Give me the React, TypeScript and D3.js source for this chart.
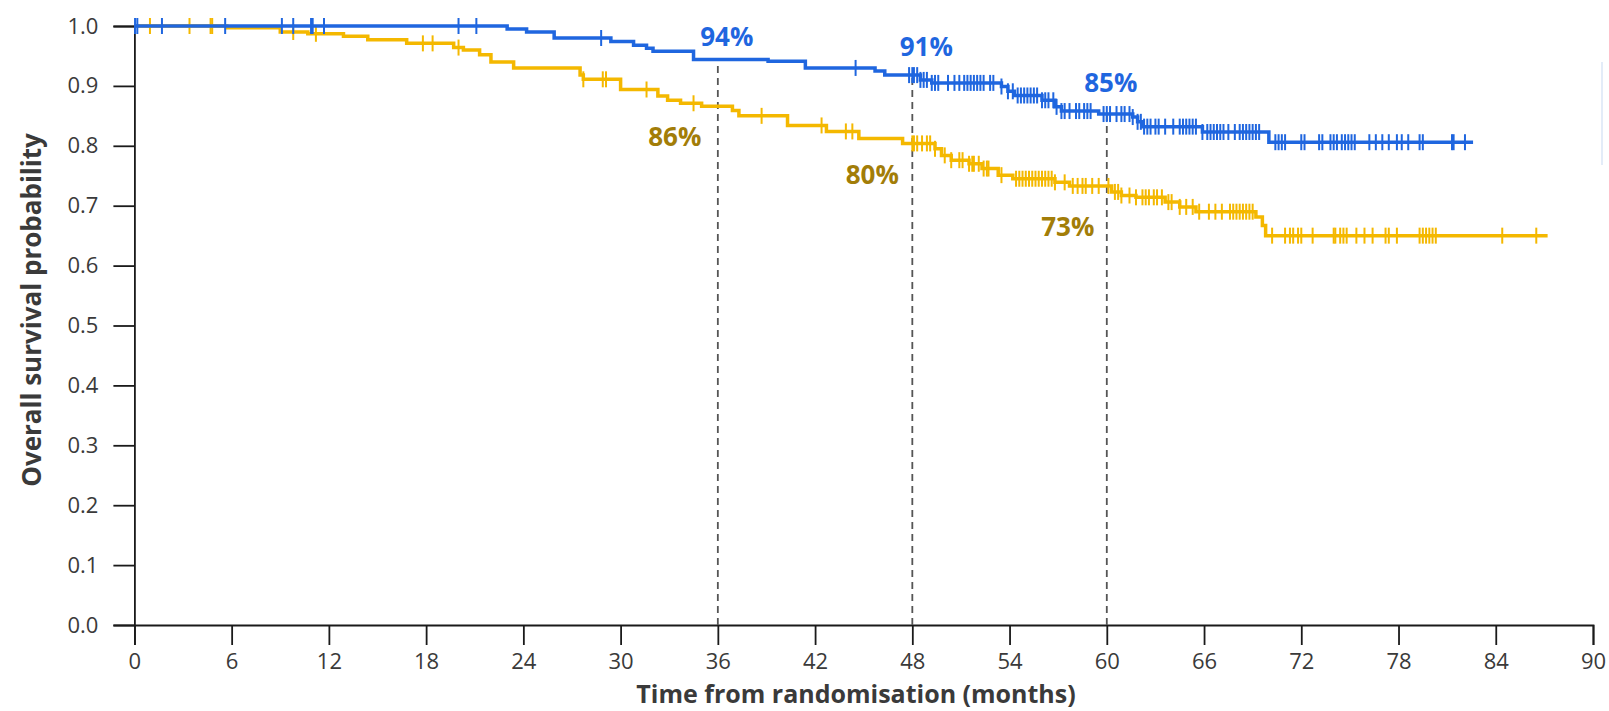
import React, { useEffect, useRef } from "react";
import * as d3 from "d3";

// tick labels
const xTickValues = [0, 6, 12, 18, 24, 30, 36, 42, 48, 54, 60, 66, 72, 78, 84, 90];
const yTickValues = [0, 0.1, 0.2, 0.3, 0.4, 0.5, 0.6, 0.7, 0.8, 0.9, 1.0];

// blue arm: [month, survival] at each step
const blueSteps: [number, number][] = [
  [0, 1.0], [23.0, 0.995], [24.2, 0.99], [25.9, 0.98], [29.4, 0.974], [30.8, 0.968],
  [31.6, 0.963], [32.0, 0.958], [34.5, 0.944], [39.1, 0.941], [41.4, 0.93], [45.7, 0.925],
  [46.3, 0.918], [48.5, 0.91], [49.2, 0.905], [53.5, 0.899], [53.9, 0.891], [54.3, 0.884],
  [56.0, 0.876], [56.8, 0.865], [57.2, 0.858], [59.5, 0.853], [61.6, 0.848], [61.9, 0.84],
  [62.2, 0.832], [65.9, 0.823], [70.0, 0.806],
];
const blueEnd = 82.6;
const blueCensors = [
  0.04, 0.18, 1.7, 5.6, 9.1, 9.8, 10.9, 11.0, 11.7, 20.0, 21.1, 28.8, 44.5, 47.8, 48.0,
  48.1, 48.3, 48.5, 48.7, 48.9, 49.2, 49.4, 49.6, 50.2, 50.6, 50.9, 51.2, 51.4, 51.6, 51.8,
  52.0, 52.2, 52.4, 52.8, 53.0, 53.5, 53.9, 54.2, 54.5, 54.7, 54.9, 55.1, 55.3, 55.5, 55.7,
  56.0, 56.2, 56.4, 56.7, 56.9, 57.2, 57.4, 57.7, 58.1, 58.3, 58.6, 58.8, 59.0, 59.8, 60.0,
  60.2, 60.6, 60.9, 61.1, 61.4, 61.6, 61.9, 62.1, 62.3, 62.5, 62.7, 63.0, 63.2, 63.6, 64.1,
  64.5, 64.7, 64.9, 65.1, 65.3, 65.5, 65.9, 66.2, 66.4, 66.6, 66.8, 67.0, 67.2, 67.5, 67.9,
  68.2, 68.4, 68.6, 68.8, 69.0, 69.2, 69.4, 70.4, 70.6, 70.8, 71.0, 72.0, 72.2, 73.1, 73.3,
  73.8, 74.0, 74.2, 74.5, 74.7, 74.9, 75.1, 75.3, 76.2, 76.6, 77.0, 77.4, 77.9, 78.2, 78.6,
  79.3, 79.5, 81.3, 81.4, 82.1,
];

// gold arm
const goldSteps: [number, number][] = [
  [0, 1.0], [5.7, 0.997], [9.0, 0.99], [10.7, 0.987], [12.9, 0.983], [14.4, 0.977],
  [16.8, 0.971], [19.7, 0.964], [20.3, 0.96], [21.3, 0.952], [22.0, 0.94], [23.4, 0.93],
  [27.5, 0.918], [27.7, 0.911], [30.0, 0.894], [32.3, 0.883], [32.9, 0.876], [33.7, 0.871],
  [35.0, 0.866], [36.9, 0.859], [37.3, 0.85], [40.3, 0.834], [42.7, 0.824], [44.7, 0.812],
  [47.4, 0.804], [49.4, 0.795], [49.8, 0.784], [50.4, 0.776], [51.5, 0.77], [52.3, 0.762],
  [53.3, 0.751], [54.2, 0.745], [56.8, 0.739], [57.7, 0.733], [60.3, 0.723], [60.9, 0.717],
  [61.8, 0.714], [63.6, 0.706], [64.5, 0.698], [65.5, 0.69], [69.2, 0.681], [69.6, 0.667],
  [69.8, 0.65],
];
const goldEnd = 87.2;
const goldCensors = [
  0.96, 3.4, 4.7, 4.8, 9.8, 11.2, 17.8, 18.4, 20.0, 27.7, 28.9, 29.1, 31.6, 34.5, 38.7,
  42.4, 43.9, 44.3, 48.0, 48.1, 48.3, 48.6, 48.9, 49.1, 49.4, 50.0, 50.4, 50.9, 51.1, 51.5,
  51.7, 51.8, 52.1, 52.4, 52.6, 52.7, 53.5, 54.4, 54.6, 54.8, 55.0, 55.2, 55.4, 55.6, 55.8,
  56.0, 56.2, 56.4, 56.6, 56.8, 57.4, 57.9, 58.2, 58.5, 58.7, 59.1, 59.5, 60.1, 60.5, 60.7,
  60.9, 61.4, 61.8, 62.2, 62.4, 62.6, 62.9, 63.1, 63.4, 63.8, 64.0, 64.5, 64.9, 65.3, 65.7,
  66.3, 66.7, 67.1, 67.6, 67.8, 68.0, 68.2, 68.4, 68.6, 68.8, 69.0, 70.2, 71.0, 71.3, 71.5,
  71.8, 72.0, 72.7, 74.0, 74.1, 74.4, 74.6, 74.8, 75.4, 75.9, 76.4, 77.2, 77.4, 77.9, 79.3,
  79.5, 79.7, 79.9, 80.1, 80.3, 84.4, 86.5,
];

const landmarkMonths = [36, 48, 60];
const blueLandmarkLabels = ["94%", "91%", "85%"];
const goldLandmarkLabels = ["86%", "80%", "73%"];

const survivalAt = (steps: [number, number][], t: number) => {
  let s = steps[0][1];
  for (const [time, v] of steps) if (time <= t) s = v;
  return s;
};

const App = () => {
  const svgRef = useRef<SVGSVGElement>(null);

  useEffect(() => {
    document.body.style.margin = "0";
    const width = 1609;
    const height = 711;
    const font = "'Open Sans', 'Noto Sans', sans-serif";
    const blue = "#1f66df";
    const gold = "#f4b800";
    const goldText = "#a27d08";

    const svg = d3.select(svgRef.current);
    svg.selectAll("*").remove();
    svg.attr("width", width).attr("height", height);

    svg.append("rect").attr("width", width).attr("height", height).attr("fill", "#fff");

    const x = d3.scaleLinear().domain([0, 90]).range([134.4, 1593]);
    const y = d3.scaleLinear().domain([0, 1]).range([625, 26]);

    // axes
    const xAxis = svg
      .append("g")
      .attr("transform", `translate(0,${y(0)})`)
      .call(d3.axisBottom(x).tickValues(xTickValues).tickSize(20).tickPadding(8).tickFormat(d3.format("d")));
    const yAxis = svg
      .append("g")
      .attr("transform", `translate(${x(0)},0)`)
      .call(d3.axisLeft(y).tickValues(yTickValues).tickSize(21).tickPadding(15).tickFormat(d3.format(".1f")));

    [xAxis, yAxis].forEach((g) => {
      g.select(".domain").attr("stroke", "#1a1a1a").attr("stroke-width", 1.8);
      g.selectAll(".tick line").attr("stroke", "#1a1a1a").attr("stroke-width", 1.8);
      g.selectAll(".tick text")
        .attr("font-family", font)
        .attr("font-size", 22)
        .attr("fill", "#3a3a3a");
    });

    // axis titles
    svg
      .append("text")
      .attr("x", 856)
      .attr("y", 703)
      .attr("text-anchor", "middle")
      .attr("font-family", font)
      .attr("font-weight", "bold")
      .attr("font-size", 25)
      .attr("fill", "#3a3a3a")
      .text("Time from randomisation (months)");
    svg
      .append("text")
      .attr("transform", "translate(41,310) rotate(-90)")
      .attr("text-anchor", "middle")
      .attr("font-family", font)
      .attr("font-weight", "bold")
      .attr("font-size", 26)
      .attr("fill", "#3a3a3a")
      .text("Overall survival probability");

    // dashed landmark lines
    landmarkMonths.forEach((m) => {
      svg
        .append("line")
        .attr("x1", x(m))
        .attr("x2", x(m))
        .attr("y1", y(0))
        .attr("y2", y(survivalAt(blueSteps, m)))
        .attr("stroke", "#555")
        .attr("stroke-width", 1.8)
        .attr("stroke-dasharray", "7 5");
    });

    const line = d3
      .line<[number, number]>()
      .x((d) => x(d[0]))
      .y((d) => y(d[1]))
      .curve(d3.curveStepAfter);

    const drawArm = (steps: [number, number][], end: number, censors: number[], color: string) => {
      const pts: [number, number][] = [...steps, [end, steps[steps.length - 1][1]]];
      svg
        .append("path")
        .datum(pts)
        .attr("d", line)
        .attr("fill", "none")
        .attr("stroke", color)
        .attr("stroke-width", 3.5);
      svg
        .append("g")
        .selectAll("line")
        .data(censors)
        .join("line")
        .attr("x1", (d) => x(d))
        .attr("x2", (d) => x(d))
        .attr("y1", (d) => y(survivalAt(steps, d)) - 8)
        .attr("y2", (d) => y(survivalAt(steps, d)) + 8)
        .attr("stroke", color)
        .attr("stroke-width", 2);
    };

    drawArm(goldSteps, goldEnd, goldCensors, gold);
    drawArm(blueSteps, blueEnd, blueCensors, blue);

    // landmark percentages
    const blueOffsets = [[9, -14], [14, -19], [4, -22]];
    const goldOffsets = [[-43, 40], [-40, 41], [-39, 50]];
    landmarkMonths.forEach((m, i) => {
      svg
        .append("text")
        .attr("x", x(m) + blueOffsets[i][0])
        .attr("y", y(survivalAt(blueSteps, m)) + blueOffsets[i][1])
        .attr("text-anchor", "middle")
        .attr("font-family", font)
        .attr("font-weight", "bold")
        .attr("font-size", 26)
        .attr("fill", blue)
        .text(blueLandmarkLabels[i]);
      svg
        .append("text")
        .attr("x", x(m) + goldOffsets[i][0])
        .attr("y", y(survivalAt(goldSteps, m)) + goldOffsets[i][1])
        .attr("text-anchor", "middle")
        .attr("font-family", font)
        .attr("font-weight", "bold")
        .attr("font-size", 26)
        .attr("fill", goldText)
        .text(goldLandmarkLabels[i]);
    });

    // faint edge of a cropped legend box at the right border
    svg
      .append("line")
      .attr("x1", 1602)
      .attr("x2", 1602)
      .attr("y1", 62)
      .attr("y2", 165)
      .attr("stroke", "#e3ecf8")
      .attr("stroke-width", 2);
  }, []);

  return <svg ref={svgRef} style={{ display: "block" }}></svg>;
};

export default App;
